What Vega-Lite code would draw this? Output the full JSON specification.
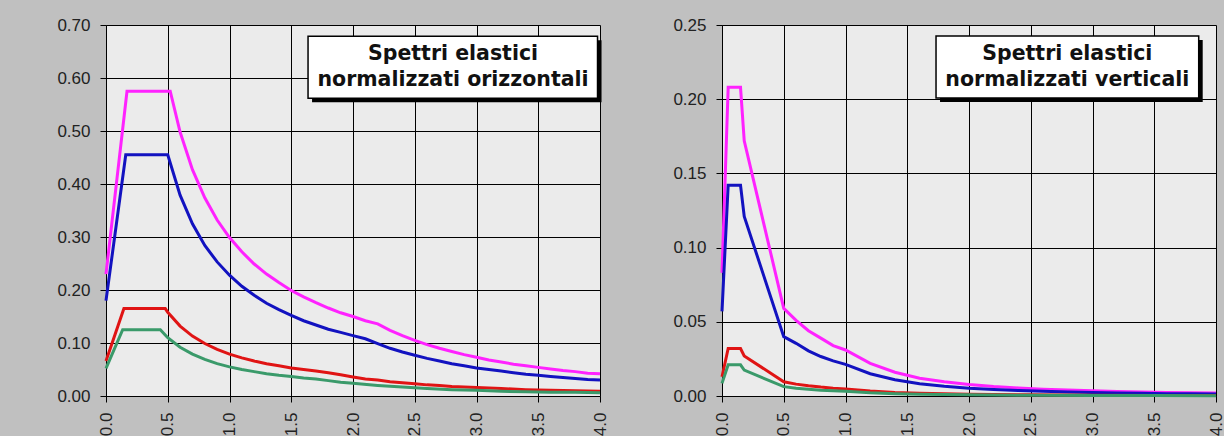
{
  "$schema": "https://vega.github.io/schema/vega-lite/v6.json",
  "background": "#C0C0C0",
  "padding": {"left": 56, "top": 16, "right": 0, "bottom": 0},
  "autosize": {"type": "pad"},
  "bounds": "flush",
  "spacing": 122,
  "config": {
    "view": {"fill": "#EBEBEB", "stroke": null},
    "axis": {"gridColor": "black", "gridOpacity": 1, "gridWidth": 1, "domainColor": "black", "domainWidth": 1, "tickColor": "black", "tickSize": 6, "labelFont": "Liberation Sans", "labelFontSize": 17, "labelColor": "#222222", "labelPadding": 10, "title": null}
  },
  "datasets": {
    "oriz": [
      {"T": 0, "Sa": 0.23, "serie": "SLC"}, {"T": 0.17, "Sa": 0.575, "serie": "SLC"}, {"T": 0.52, "Sa": 0.575, "serie": "SLC"}, {"T": 0.6, "Sa": 0.498, "serie": "SLC"}, {"T": 0.7, "Sa": 0.427, "serie": "SLC"}, {"T": 0.8, "Sa": 0.374, "serie": "SLC"}, {"T": 0.9, "Sa": 0.332, "serie": "SLC"}, {"T": 1.0, "Sa": 0.299, "serie": "SLC"}, {"T": 1.1, "Sa": 0.272, "serie": "SLC"}, {"T": 1.2, "Sa": 0.249, "serie": "SLC"}, {"T": 1.3, "Sa": 0.23, "serie": "SLC"}, {"T": 1.4, "Sa": 0.214, "serie": "SLC"}, {"T": 1.5, "Sa": 0.199, "serie": "SLC"}, {"T": 1.6, "Sa": 0.187, "serie": "SLC"}, {"T": 1.7, "Sa": 0.176, "serie": "SLC"}, {"T": 1.8, "Sa": 0.166, "serie": "SLC"}, {"T": 1.9, "Sa": 0.157, "serie": "SLC"}, {"T": 2.0, "Sa": 0.15, "serie": "SLC"}, {"T": 2.1, "Sa": 0.142, "serie": "SLC"}, {"T": 2.2, "Sa": 0.136, "serie": "SLC"}, {"T": 2.3, "Sa": 0.124, "serie": "SLC"}, {"T": 2.4, "Sa": 0.114, "serie": "SLC"}, {"T": 2.5, "Sa": 0.105, "serie": "SLC"}, {"T": 2.6, "Sa": 0.097, "serie": "SLC"}, {"T": 2.7, "Sa": 0.09, "serie": "SLC"}, {"T": 2.8, "Sa": 0.084, "serie": "SLC"}, {"T": 2.9, "Sa": 0.078, "serie": "SLC"}, {"T": 3.0, "Sa": 0.073, "serie": "SLC"}, {"T": 3.1, "Sa": 0.068, "serie": "SLC"}, {"T": 3.2, "Sa": 0.064, "serie": "SLC"}, {"T": 3.3, "Sa": 0.06, "serie": "SLC"}, {"T": 3.4, "Sa": 0.057, "serie": "SLC"}, {"T": 3.5, "Sa": 0.054, "serie": "SLC"}, {"T": 3.6, "Sa": 0.051, "serie": "SLC"}, {"T": 3.7, "Sa": 0.048, "serie": "SLC"}, {"T": 3.8, "Sa": 0.046, "serie": "SLC"}, {"T": 3.9, "Sa": 0.043, "serie": "SLC"}, {"T": 4.0, "Sa": 0.042, "serie": "SLC"},
      {"T": 0, "Sa": 0.18, "serie": "SLV"}, {"T": 0.16, "Sa": 0.455, "serie": "SLV"}, {"T": 0.5, "Sa": 0.455, "serie": "SLV"}, {"T": 0.6, "Sa": 0.379, "serie": "SLV"}, {"T": 0.7, "Sa": 0.325, "serie": "SLV"}, {"T": 0.8, "Sa": 0.284, "serie": "SLV"}, {"T": 0.9, "Sa": 0.253, "serie": "SLV"}, {"T": 1.0, "Sa": 0.228, "serie": "SLV"}, {"T": 1.1, "Sa": 0.207, "serie": "SLV"}, {"T": 1.2, "Sa": 0.19, "serie": "SLV"}, {"T": 1.3, "Sa": 0.175, "serie": "SLV"}, {"T": 1.4, "Sa": 0.163, "serie": "SLV"}, {"T": 1.5, "Sa": 0.152, "serie": "SLV"}, {"T": 1.6, "Sa": 0.142, "serie": "SLV"}, {"T": 1.7, "Sa": 0.134, "serie": "SLV"}, {"T": 1.8, "Sa": 0.126, "serie": "SLV"}, {"T": 1.9, "Sa": 0.12, "serie": "SLV"}, {"T": 2.0, "Sa": 0.114, "serie": "SLV"}, {"T": 2.1, "Sa": 0.108, "serie": "SLV"}, {"T": 2.2, "Sa": 0.099, "serie": "SLV"}, {"T": 2.3, "Sa": 0.09, "serie": "SLV"}, {"T": 2.4, "Sa": 0.083, "serie": "SLV"}, {"T": 2.5, "Sa": 0.077, "serie": "SLV"}, {"T": 2.6, "Sa": 0.071, "serie": "SLV"}, {"T": 2.7, "Sa": 0.066, "serie": "SLV"}, {"T": 2.8, "Sa": 0.061, "serie": "SLV"}, {"T": 2.9, "Sa": 0.057, "serie": "SLV"}, {"T": 3.0, "Sa": 0.053, "serie": "SLV"}, {"T": 3.1, "Sa": 0.05, "serie": "SLV"}, {"T": 3.2, "Sa": 0.047, "serie": "SLV"}, {"T": 3.3, "Sa": 0.044, "serie": "SLV"}, {"T": 3.4, "Sa": 0.041, "serie": "SLV"}, {"T": 3.5, "Sa": 0.039, "serie": "SLV"}, {"T": 3.6, "Sa": 0.037, "serie": "SLV"}, {"T": 3.7, "Sa": 0.035, "serie": "SLV"}, {"T": 3.8, "Sa": 0.033, "serie": "SLV"}, {"T": 3.9, "Sa": 0.031, "serie": "SLV"}, {"T": 4.0, "Sa": 0.03, "serie": "SLV"},
      {"T": 0, "Sa": 0.066, "serie": "SLD"}, {"T": 0.145, "Sa": 0.165, "serie": "SLD"}, {"T": 0.48, "Sa": 0.165, "serie": "SLD"}, {"T": 0.5, "Sa": 0.158, "serie": "SLD"}, {"T": 0.6, "Sa": 0.132, "serie": "SLD"}, {"T": 0.7, "Sa": 0.113, "serie": "SLD"}, {"T": 0.8, "Sa": 0.099, "serie": "SLD"}, {"T": 0.9, "Sa": 0.088, "serie": "SLD"}, {"T": 1.0, "Sa": 0.079, "serie": "SLD"}, {"T": 1.1, "Sa": 0.072, "serie": "SLD"}, {"T": 1.2, "Sa": 0.066, "serie": "SLD"}, {"T": 1.3, "Sa": 0.061, "serie": "SLD"}, {"T": 1.4, "Sa": 0.057, "serie": "SLD"}, {"T": 1.5, "Sa": 0.053, "serie": "SLD"}, {"T": 1.6, "Sa": 0.05, "serie": "SLD"}, {"T": 1.7, "Sa": 0.047, "serie": "SLD"}, {"T": 1.8, "Sa": 0.044, "serie": "SLD"}, {"T": 1.9, "Sa": 0.04, "serie": "SLD"}, {"T": 2.0, "Sa": 0.036, "serie": "SLD"}, {"T": 2.1, "Sa": 0.032, "serie": "SLD"}, {"T": 2.2, "Sa": 0.03, "serie": "SLD"}, {"T": 2.3, "Sa": 0.027, "serie": "SLD"}, {"T": 2.4, "Sa": 0.025, "serie": "SLD"}, {"T": 2.5, "Sa": 0.023, "serie": "SLD"}, {"T": 2.6, "Sa": 0.021, "serie": "SLD"}, {"T": 2.7, "Sa": 0.02, "serie": "SLD"}, {"T": 2.8, "Sa": 0.018, "serie": "SLD"}, {"T": 2.9, "Sa": 0.017, "serie": "SLD"}, {"T": 3.0, "Sa": 0.016, "serie": "SLD"}, {"T": 3.2, "Sa": 0.014, "serie": "SLD"}, {"T": 3.4, "Sa": 0.012, "serie": "SLD"}, {"T": 3.6, "Sa": 0.011, "serie": "SLD"}, {"T": 3.8, "Sa": 0.01, "serie": "SLD"}, {"T": 4.0, "Sa": 0.009, "serie": "SLD"},
      {"T": 0, "Sa": 0.052, "serie": "SLO"}, {"T": 0.135, "Sa": 0.125, "serie": "SLO"}, {"T": 0.44, "Sa": 0.125, "serie": "SLO"}, {"T": 0.5, "Sa": 0.11, "serie": "SLO"}, {"T": 0.6, "Sa": 0.092, "serie": "SLO"}, {"T": 0.7, "Sa": 0.079, "serie": "SLO"}, {"T": 0.8, "Sa": 0.069, "serie": "SLO"}, {"T": 0.9, "Sa": 0.061, "serie": "SLO"}, {"T": 1.0, "Sa": 0.055, "serie": "SLO"}, {"T": 1.1, "Sa": 0.05, "serie": "SLO"}, {"T": 1.2, "Sa": 0.046, "serie": "SLO"}, {"T": 1.3, "Sa": 0.042, "serie": "SLO"}, {"T": 1.4, "Sa": 0.039, "serie": "SLO"}, {"T": 1.5, "Sa": 0.037, "serie": "SLO"}, {"T": 1.6, "Sa": 0.034, "serie": "SLO"}, {"T": 1.7, "Sa": 0.032, "serie": "SLO"}, {"T": 1.8, "Sa": 0.029, "serie": "SLO"}, {"T": 1.9, "Sa": 0.026, "serie": "SLO"}, {"T": 2.0, "Sa": 0.024, "serie": "SLO"}, {"T": 2.2, "Sa": 0.02, "serie": "SLO"}, {"T": 2.4, "Sa": 0.017, "serie": "SLO"}, {"T": 2.6, "Sa": 0.014, "serie": "SLO"}, {"T": 2.8, "Sa": 0.012, "serie": "SLO"}, {"T": 3.0, "Sa": 0.011, "serie": "SLO"}, {"T": 3.2, "Sa": 0.009, "serie": "SLO"}, {"T": 3.4, "Sa": 0.008, "serie": "SLO"}, {"T": 3.6, "Sa": 0.007, "serie": "SLO"}, {"T": 3.8, "Sa": 0.007, "serie": "SLO"}, {"T": 4.0, "Sa": 0.006, "serie": "SLO"}
    ],
    "vert": [
      {"T": 0, "Sa": 0.083, "serie": "SLC"}, {"T": 0.05, "Sa": 0.208, "serie": "SLC"}, {"T": 0.15, "Sa": 0.208, "serie": "SLC"}, {"T": 0.18, "Sa": 0.172, "serie": "SLC"}, {"T": 0.5, "Sa": 0.059, "serie": "SLC"}, {"T": 0.6, "Sa": 0.051, "serie": "SLC"}, {"T": 0.7, "Sa": 0.044, "serie": "SLC"}, {"T": 0.8, "Sa": 0.039, "serie": "SLC"}, {"T": 0.9, "Sa": 0.034, "serie": "SLC"}, {"T": 1.0, "Sa": 0.031, "serie": "SLC"}, {"T": 1.2, "Sa": 0.022, "serie": "SLC"}, {"T": 1.4, "Sa": 0.016, "serie": "SLC"}, {"T": 1.6, "Sa": 0.012, "serie": "SLC"}, {"T": 1.8, "Sa": 0.0096, "serie": "SLC"}, {"T": 2.0, "Sa": 0.0078, "serie": "SLC"}, {"T": 2.2, "Sa": 0.0064, "serie": "SLC"}, {"T": 2.4, "Sa": 0.0054, "serie": "SLC"}, {"T": 2.6, "Sa": 0.0046, "serie": "SLC"}, {"T": 2.8, "Sa": 0.004, "serie": "SLC"}, {"T": 3.0, "Sa": 0.0035, "serie": "SLC"}, {"T": 3.2, "Sa": 0.003, "serie": "SLC"}, {"T": 3.4, "Sa": 0.0027, "serie": "SLC"}, {"T": 3.6, "Sa": 0.0024, "serie": "SLC"}, {"T": 3.8, "Sa": 0.0022, "serie": "SLC"}, {"T": 4.0, "Sa": 0.002, "serie": "SLC"},
      {"T": 0, "Sa": 0.057, "serie": "SLV"}, {"T": 0.05, "Sa": 0.142, "serie": "SLV"}, {"T": 0.15, "Sa": 0.142, "serie": "SLV"}, {"T": 0.18, "Sa": 0.121, "serie": "SLV"}, {"T": 0.5, "Sa": 0.04, "serie": "SLV"}, {"T": 0.6, "Sa": 0.0355, "serie": "SLV"}, {"T": 0.7, "Sa": 0.0304, "serie": "SLV"}, {"T": 0.8, "Sa": 0.0266, "serie": "SLV"}, {"T": 0.9, "Sa": 0.0237, "serie": "SLV"}, {"T": 1.0, "Sa": 0.0213, "serie": "SLV"}, {"T": 1.2, "Sa": 0.015, "serie": "SLV"}, {"T": 1.4, "Sa": 0.011, "serie": "SLV"}, {"T": 1.6, "Sa": 0.0083, "serie": "SLV"}, {"T": 1.8, "Sa": 0.0066, "serie": "SLV"}, {"T": 2.0, "Sa": 0.0053, "serie": "SLV"}, {"T": 2.2, "Sa": 0.0044, "serie": "SLV"}, {"T": 2.4, "Sa": 0.0037, "serie": "SLV"}, {"T": 2.6, "Sa": 0.0032, "serie": "SLV"}, {"T": 2.8, "Sa": 0.0027, "serie": "SLV"}, {"T": 3.0, "Sa": 0.0024, "serie": "SLV"}, {"T": 3.2, "Sa": 0.0021, "serie": "SLV"}, {"T": 3.4, "Sa": 0.0018, "serie": "SLV"}, {"T": 3.6, "Sa": 0.0016, "serie": "SLV"}, {"T": 3.8, "Sa": 0.0015, "serie": "SLV"}, {"T": 4.0, "Sa": 0.0013, "serie": "SLV"},
      {"T": 0, "Sa": 0.013, "serie": "SLD"}, {"T": 0.05, "Sa": 0.032, "serie": "SLD"}, {"T": 0.15, "Sa": 0.032, "serie": "SLD"}, {"T": 0.18, "Sa": 0.027, "serie": "SLD"}, {"T": 0.5, "Sa": 0.0096, "serie": "SLD"}, {"T": 0.6, "Sa": 0.008, "serie": "SLD"}, {"T": 0.7, "Sa": 0.0069, "serie": "SLD"}, {"T": 0.8, "Sa": 0.006, "serie": "SLD"}, {"T": 0.9, "Sa": 0.0053, "serie": "SLD"}, {"T": 1.0, "Sa": 0.0048, "serie": "SLD"}, {"T": 1.2, "Sa": 0.0033, "serie": "SLD"}, {"T": 1.4, "Sa": 0.0024, "serie": "SLD"}, {"T": 1.6, "Sa": 0.0019, "serie": "SLD"}, {"T": 1.8, "Sa": 0.0015, "serie": "SLD"}, {"T": 2.0, "Sa": 0.0012, "serie": "SLD"}, {"T": 2.5, "Sa": 0.0008, "serie": "SLD"}, {"T": 3.0, "Sa": 0.0005, "serie": "SLD"}, {"T": 3.5, "Sa": 0.0004, "serie": "SLD"}, {"T": 4.0, "Sa": 0.0003, "serie": "SLD"},
      {"T": 0, "Sa": 0.0085, "serie": "SLO"}, {"T": 0.05, "Sa": 0.021, "serie": "SLO"}, {"T": 0.15, "Sa": 0.021, "serie": "SLO"}, {"T": 0.18, "Sa": 0.0175, "serie": "SLO"}, {"T": 0.5, "Sa": 0.0063, "serie": "SLO"}, {"T": 0.6, "Sa": 0.0053, "serie": "SLO"}, {"T": 0.7, "Sa": 0.0045, "serie": "SLO"}, {"T": 0.8, "Sa": 0.0039, "serie": "SLO"}, {"T": 0.9, "Sa": 0.0035, "serie": "SLO"}, {"T": 1.0, "Sa": 0.0032, "serie": "SLO"}, {"T": 1.2, "Sa": 0.0022, "serie": "SLO"}, {"T": 1.4, "Sa": 0.0016, "serie": "SLO"}, {"T": 1.6, "Sa": 0.0012, "serie": "SLO"}, {"T": 1.8, "Sa": 0.001, "serie": "SLO"}, {"T": 2.0, "Sa": 0.0008, "serie": "SLO"}, {"T": 2.5, "Sa": 0.0005, "serie": "SLO"}, {"T": 3.0, "Sa": 0.00035, "serie": "SLO"}, {"T": 3.5, "Sa": 0.00026, "serie": "SLO"}, {"T": 4.0, "Sa": 0.0002, "serie": "SLO"}
    ]
  },
  "hconcat": [
    {
      "width": 494,
      "height": 371,
      "layer": [
        {
          "data": {"name": "oriz"},
          "mark": {"type": "line", "strokeWidth": 3},
          "encoding": {
            "x": {"field": "T", "type": "quantitative", "scale": {"domain": [0, 4], "nice": false}, "axis": {"values": [0, 0.5, 1, 1.5, 2, 2.5, 3, 3.5, 4], "format": ".1f", "labelAngle": 270, "title": null}},
            "y": {"field": "Sa", "type": "quantitative", "scale": {"domain": [0, 0.7], "nice": false}, "axis": {"values": [0, 0.1, 0.2, 0.3, 0.4, 0.5, 0.6, 0.7], "format": ".2f", "title": null}},
            "color": {"field": "serie", "type": "nominal", "scale": {"domain": ["SLO", "SLD", "SLV", "SLC"], "range": ["#3A9A6A", "#E01414", "#1212C0", "#FF22FF"]}, "legend": null}
          }
        },
        {
          "data": {"values": [{}]},
          "mark": {"type": "rect", "color": "black", "opacity": 1, "xOffset": 4, "x2Offset": 4, "yOffset": 4, "y2Offset": 4},
          "encoding": {"x": {"datum": 1.636}, "x2": {"datum": 3.98}, "y": {"datum": 0.679}, "y2": {"datum": 0.562}}
        },
        {
          "data": {"values": [{}]},
          "mark": {"type": "rect", "fill": "white", "stroke": "black", "strokeWidth": 1.5, "opacity": 1},
          "encoding": {"x": {"datum": 1.636}, "x2": {"datum": 3.98}, "y": {"datum": 0.679}, "y2": {"datum": 0.562}}
        },
        {
          "data": {"values": [{}]},
          "mark": {"type": "text", "font": "DejaVu Sans", "fontWeight": "bold", "fontSize": 20.5, "lineHeight": 26, "align": "center", "baseline": "middle", "dy": -13, "color": "#111111"},
          "encoding": {"x": {"datum": 2.81}, "y": {"datum": 0.621}, "text": {"value": ["Spettri elastici", "normalizzati orizzontali"]}}
        }
      ]
    },
    {
      "width": 494,
      "height": 371,
      "layer": [
        {
          "data": {"name": "vert"},
          "mark": {"type": "line", "strokeWidth": 3},
          "encoding": {
            "x": {"field": "T", "type": "quantitative", "scale": {"domain": [0, 4], "nice": false}, "axis": {"values": [0, 0.5, 1, 1.5, 2, 2.5, 3, 3.5, 4], "format": ".1f", "labelAngle": 270, "title": null}},
            "y": {"field": "Sa", "type": "quantitative", "scale": {"domain": [0, 0.25], "nice": false}, "axis": {"values": [0, 0.05, 0.1, 0.15, 0.2, 0.25], "format": ".2f", "title": null}},
            "color": {"field": "serie", "type": "nominal", "scale": {"domain": ["SLO", "SLD", "SLV", "SLC"], "range": ["#3A9A6A", "#E01414", "#1212C0", "#FF22FF"]}, "legend": null}
          }
        },
        {
          "data": {"values": [{}]},
          "mark": {"type": "rect", "color": "black", "opacity": 1, "xOffset": 4, "x2Offset": 4, "yOffset": 4, "y2Offset": 4},
          "encoding": {"x": {"datum": 1.733}, "x2": {"datum": 3.86}, "y": {"datum": 0.2426}, "y2": {"datum": 0.2008}}
        },
        {
          "data": {"values": [{}]},
          "mark": {"type": "rect", "fill": "white", "stroke": "black", "strokeWidth": 1.5, "opacity": 1},
          "encoding": {"x": {"datum": 1.733}, "x2": {"datum": 3.86}, "y": {"datum": 0.2426}, "y2": {"datum": 0.2008}}
        },
        {
          "data": {"values": [{}]},
          "mark": {"type": "text", "font": "DejaVu Sans", "fontWeight": "bold", "fontSize": 20.5, "lineHeight": 26, "align": "center", "baseline": "middle", "dy": -13, "color": "#111111"},
          "encoding": {"x": {"datum": 2.796}, "y": {"datum": 0.2217}, "text": {"value": ["Spettri elastici", "normalizzati verticali"]}}
        }
      ]
    }
  ]
}
